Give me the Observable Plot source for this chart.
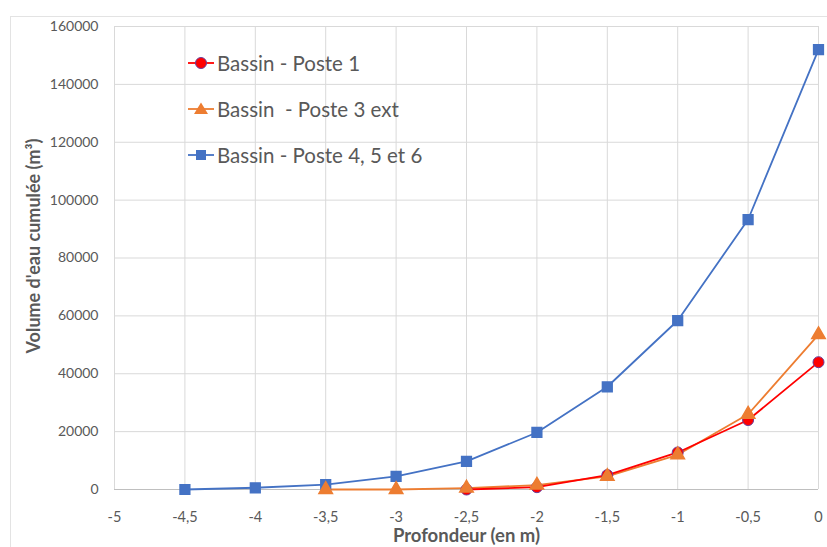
<!DOCTYPE html>
<html><head><meta charset="utf-8">
<script src="https://cdn.jsdelivr.net/npm/d3@7"></script>
<script src="https://cdn.jsdelivr.net/npm/@observablehq/plot@0.6"></script>
<style>
body{margin:0;background:#fff;font-family:Lato,"Open Sans",sans-serif;}
#wrap{position:relative;width:827px;height:547px;overflow:hidden;}
#frame{position:absolute;left:10px;top:16px;width:840px;height:560px;border:1px solid #e3e3e3;box-sizing:border-box;}
#legend{position:absolute;left:188px;top:40px;font-size:20.5px;color:#595959;}
.li{display:flex;align-items:center;height:46px;}
.li svg{margin-right:2px;}
</style></head>
<body><div id="wrap"><div id="frame"></div><div id="chart"></div><div id="legend"></div></div>
<script>
const depthsBlue = [-4.5,-4,-3.5,-3,-2.5,-2,-1.5,-1,-0.5,0];
const valuesBlue = [0,600,1700,4500,9700,19700,35500,58400,93300,152000];
const depthsRed = [-2.5,-2,-1.5,-1,-0.5,0];
const valuesRed = [0,800,5000,12800,24000,44000];
const depthsOrange = [-3.5,-3,-2.5,-2,-1.5,-1,-0.5,0];
const valuesOrange = [0,0,500,1500,4500,12000,26000,53500];
const seriesNames = ["Bassin - Poste 1","Bassin  - Poste 3 ext","Bassin - Poste 4, 5 et 6"];
const xTicks = [-5,-4.5,-4,-3.5,-3,-2.5,-2,-1.5,-1,-0.5,0];
const yTicks = [0,20000,40000,60000,80000,100000,120000,140000,160000];

const colors = {red:"#ff0000", orange:"#ed7d31", blue:"#4472c4"};
const blue = depthsBlue.map((x,i)=>({x,y:valuesBlue[i]}));
const red = depthsRed.map((x,i)=>({x,y:valuesRed[i]}));
const orange = depthsOrange.map((x,i)=>({x,y:valuesOrange[i]}));

const chart = Plot.plot({
  width:827, height:547,
  marginLeft:114, marginRight:9, marginTop:26, marginBottom:58,
  style:{fontFamily:"Lato, 'Open Sans', sans-serif", fontSize:"14px", color:"#595959", background:"transparent"},
  x:{domain:[-5,0], ticks:xTicks, tickFormat:d=>String(d).replace(".",","), label:null},
  y:{domain:[0,160000], ticks:yTicks, tickFormat:d=>String(d), label:null},
  marks:[
    Plot.gridX(xTicks,{stroke:"#d9d9d9", strokeOpacity:1}),
    Plot.gridY(yTicks,{stroke:"#d9d9d9", strokeOpacity:1}),
    Plot.ruleY([0],{stroke:"#bfbfbf"}),
    Plot.axisX(xTicks,{tickSize:0, tickPadding:22, fontSize:14.5, tickFormat:d=>String(d).replace(".",",")}),
    Plot.axisY(yTicks,{tickSize:0, tickPadding:16, fontSize:14, tickFormat:d=>String(d)}),
    Plot.line(blue,{x:"x",y:"y",stroke:colors.blue,strokeWidth:1.8}),
    Plot.line(orange,{x:"x",y:"y",stroke:colors.orange,strokeWidth:1.8}),
    Plot.line(red,{x:"x",y:"y",stroke:colors.red,strokeWidth:1.8}),
    Plot.dot(blue,{x:"x",y:"y",symbol:"square",r:5.5,fill:colors.blue,stroke:colors.blue}),
    Plot.dot(red,{x:"x",y:"y",symbol:"circle",r:5.5,fill:colors.red,stroke:"#6a3d9a",strokeWidth:1}),
    Plot.dot(orange,{x:"x",y:"y",symbol:"triangle",r:5,fill:colors.orange,stroke:colors.orange}),
    Plot.text(["Profondeur (en m)"],{frameAnchor:"bottom",dy:52,fontWeight:"bold",fontSize:18.5,fill:"#595959"}),
    Plot.text(["Volume d'eau cumulée (m³)"],{frameAnchor:"left",textAnchor:"middle",dx:-80,dy:-12,rotate:-90,fontWeight:"bold",fontSize:18,fill:"#595959"})
  ]
});
document.getElementById("chart").appendChild(chart);

const legendItems = [
  {name:seriesNames[0], color:colors.red, shape:"circle"},
  {name:seriesNames[1], color:colors.orange, shape:"triangle"},
  {name:seriesNames[2], color:colors.blue, shape:"square"}
];
const leg = document.getElementById("legend");
for (const it of legendItems){
  const d = document.createElement("div"); d.className="li";
  let marker;
  if (it.shape==="circle") marker = `<circle cx="13" cy="10" r="5.5" fill="${it.color}" stroke="#6a3d9a"/>`;
  else if (it.shape==="triangle") marker = `<path d="M13,3.5 L20,15 L6,15 Z" fill="${it.color}"/>`;
  else marker = `<rect x="8" y="5" width="10" height="10" fill="${it.color}"/>`;
  d.innerHTML = `<svg width="27" height="20"><line x1="0" x2="26" y1="10" y2="10" stroke="${it.color}" stroke-width="1.8"/>${marker}</svg><span style="white-space:pre">${it.name}</span>`;
  leg.appendChild(d);
}
</script></body></html>
